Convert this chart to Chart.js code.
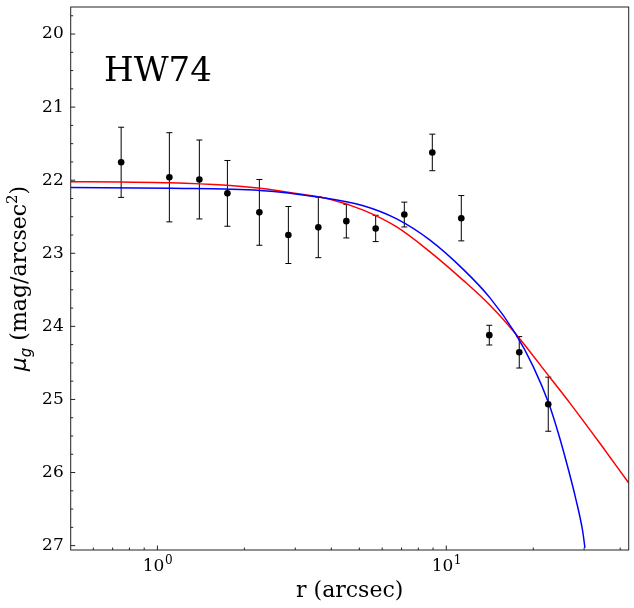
<!DOCTYPE html>
<html>
<head>
<meta charset="utf-8">
<script src="https://cdn.jsdelivr.net/npm/chart.js@4.4.1/dist/chart.umd.min.js"></script>
<style>
  html, body { margin: 0; padding: 0; background: #fff; }
  #wrap { width: 634px; height: 608px; position: relative; }
</style>
</head>
<body>
<div id="wrap"><canvas id="profile"></canvas></div>
<script>
// ---------- data ----------
const galaxyName = "HW74";

// observed surface brightness profile
const radii  = [0.749, 1.10, 1.397, 1.747, 2.254, 2.84, 3.606, 4.508, 5.696, 7.157, 8.945, 11.27, 14.09, 17.89, 22.54];
const mu     = [21.755, 21.96, 21.99, 22.18, 22.44, 22.75, 22.645, 22.56, 22.66, 22.47, 21.62, 22.52, 24.12, 24.355, 25.065];
const muErr  = [0.48, 0.61, 0.54, 0.45, 0.45, 0.39, 0.415, 0.23, 0.18, 0.17, 0.25, 0.31, 0.135, 0.215, 0.37];

// red model curve
const redR  = [0.501, 0.743, 1.106, 1.738, 2.267, 3.117, 3.959, 5.162, 6.735, 8.782, 11.45, 14.17, 17.29, 22.85, 26.79, 34.02, 42.76];
const redMu = [22.02, 22.025, 22.034, 22.07, 22.11, 22.19, 22.26, 22.41, 22.64, 22.98, 23.37, 23.71, 24.09, 24.70, 25.05, 25.60, 26.14];

// blue model curve
const blueR  = [0.501, 1.106, 2.267, 3.597, 5.162, 6.735, 8.782, 11.45, 14.17, 17.29, 20.0, 22.61, 24.41, 26.10, 28.11, 29.65, 30.2];
const blueMu = [22.10, 22.11, 22.14, 22.23, 22.35, 22.53, 22.82, 23.22, 23.61, 24.09, 24.55, 25.05, 25.46, 25.87, 26.37, 26.80, 27.03];

// axes
const xTicks = [1, 10];
const xTickBase = ["10", "10"];
const xTickExp = ["0", "1"];
const xMinorTicks = [0.6, 0.7, 0.8, 0.9, 2, 3, 4, 5, 6, 7, 8, 9, 20, 30, 40];
const yTicks = [20, 21, 22, 23, 24, 25, 26, 27];

const SERIF = '"DejaVu Serif", serif';
const SANS = '"DejaVu Sans", sans-serif';

const toXY = (xs, ys) => xs.map((v, i) => ({ x: v, y: ys[i] }));

// ---------- decorations: error bars, frame, inward ticks, labels ----------
const decorations = {
  id: "decorations",
  beforeDatasetsDraw(chart) {
    const { ctx, scales: { x, y } } = chart;
    ctx.save();
    ctx.strokeStyle = "#000";
    ctx.lineWidth = 1;
    radii.forEach((r, i) => {
      const px = x.getPixelForValue(r);
      const top = y.getPixelForValue(mu[i] - muErr[i]);
      const bot = y.getPixelForValue(mu[i] + muErr[i]);
      ctx.beginPath();
      ctx.moveTo(px, top); ctx.lineTo(px, bot);
      ctx.moveTo(px - 3, top); ctx.lineTo(px + 3, top);
      ctx.moveTo(px - 3, bot); ctx.lineTo(px + 3, bot);
      ctx.stroke();
    });
    ctx.restore();
  },
  afterDraw(chart) {
    const { ctx, chartArea: a, scales: { x, y } } = chart;
    ctx.save();
    ctx.strokeStyle = "#222";
    ctx.lineWidth = 1;
    ctx.beginPath();
    // inward ticks, left axis
    yTicks.forEach(v => {
      const py = y.getPixelForValue(v);
      ctx.moveTo(a.left, py); ctx.lineTo(a.left + 4.5, py);
    });
    for (let v = 19.75; v <= 27.0; v += 0.25) {
      if (Math.abs(v - Math.round(v)) < 1e-6) continue;
      const py = y.getPixelForValue(v);
      if (py < a.top || py > a.bottom) continue;
      ctx.moveTo(a.left, py); ctx.lineTo(a.left + 2.5, py);
    }
    // inward ticks, bottom axis
    xTicks.forEach(v => {
      const px = x.getPixelForValue(v);
      ctx.moveTo(px, a.bottom); ctx.lineTo(px, a.bottom - 4.5);
    });
    xMinorTicks.forEach(v => {
      const px = x.getPixelForValue(v);
      ctx.moveTo(px, a.bottom); ctx.lineTo(px, a.bottom - 2.5);
    });
    ctx.stroke();
    ctx.strokeRect(a.left, a.top, a.right - a.left, a.bottom - a.top);

    ctx.fillStyle = "#000";
    ctx.textBaseline = "alphabetic";
    ctx.textAlign = "left";

    // x tick labels as 10^n
    xTicks.forEach((v, i) => {
      const px = x.getPixelForValue(v);
      ctx.font = "17px " + SERIF;
      const wb = ctx.measureText(xTickBase[i]).width;
      ctx.font = "12px " + SERIF;
      const we = ctx.measureText(xTickExp[i]).width;
      const x0 = px - (wb + we) / 2;
      ctx.font = "17px " + SERIF;
      ctx.fillText(xTickBase[i], x0, a.bottom + 21);
      ctx.font = "12px " + SERIF;
      ctx.fillText(xTickExp[i], x0 + wb + 0.5, a.bottom + 13.5);
    });

    // galaxy name inside the axes
    ctx.font = "34px " + SERIF;
    ctx.fillText(galaxyName, 104, 81);

    // y axis title with sub/superscript
    const parts = [
      { t: "\u03BC", f: "italic 22px " + SANS, dy: 0 },
      { t: "g", f: "italic 15px " + SANS, dy: 5 },
      { t: " (mag/arcsec", f: "22px " + SERIF, dy: 0 },
      { t: "2", f: "15px " + SERIF, dy: -9 },
      { t: ")", f: "22px " + SERIF, dy: 0 }
    ];
    let total = 0;
    parts.forEach(p => { ctx.font = p.f; p.w = ctx.measureText(p.t).width; total += p.w; });
    ctx.translate(26, (a.top + a.bottom) / 2);
    ctx.rotate(-Math.PI / 2);
    let cx = -total / 2;
    parts.forEach(p => { ctx.font = p.f; ctx.fillText(p.t, cx, p.dy); cx += p.w; });
    ctx.restore();
  }
};

const chart = new Chart(document.getElementById("profile"), {
  type: "scatter",
  data: {
    datasets: [
      {
        label: "data",
        data: toXY(radii, mu),
        pointRadius: 3.3,
        pointHoverRadius: 3.3,
        backgroundColor: "#000",
        borderWidth: 0
      },
      {
        type: "line",
        label: "blue model",
        data: toXY(blueR, blueMu),
        borderColor: "#0000ff",
        borderWidth: 1.5,
        pointRadius: 0,
        fill: false,
        cubicInterpolationMode: "monotone"
      },
      {
        type: "line",
        label: "red model",
        data: toXY(redR, redMu),
        borderColor: "#ff0000",
        borderWidth: 1.5,
        pointRadius: 0,
        fill: false,
        cubicInterpolationMode: "monotone"
      }
    ]
  },
  options: {
    responsive: true,
    maintainAspectRatio: false,
    animation: false,
    events: [],
    layout: { padding: { top: 7, right: 5.3, left: 0, bottom: 0 } },
    plugins: { legend: { display: false }, tooltip: { enabled: false } },
    scales: {
      x: {
        type: "logarithmic",
        min: 0.501,
        max: 42.8,
        grid: { display: false, drawTicks: false },
        border: { display: false },
        afterBuildTicks: s => { s.ticks = xTicks.map(v => ({ value: v })); },
        afterFit: s => { s.height = 58; s.paddingLeft = 0; s.paddingRight = 0; },
        ticks: {
          autoSkip: false,
          maxRotation: 0,
          padding: 4,
          font: { family: SERIF, size: 17 },
          callback: () => ""
        },
        title: {
          display: true,
          text: "r (arcsec)",
          color: "#000",
          font: { family: SERIF, size: 22 },
          padding: { top: 2, bottom: 4 }
        }
      },
      y: {
        type: "linear",
        reverse: true,
        min: 19.63,
        max: 27.06,
        grid: { display: false, drawTicks: false },
        border: { display: false },
        afterBuildTicks: s => { s.ticks = yTicks.map(v => ({ value: v })); },
        afterFit: s => { s.width = 70.7; s.paddingTop = 0; s.paddingBottom = 0; },
        ticks: {
          autoSkip: false,
          padding: 7,
          color: "#000",
          font: { family: SERIF, size: 17 },
          callback: v => String(v)
        }
      }
    }
  },
  plugins: [decorations]
});
</script>
</body>
</html>
